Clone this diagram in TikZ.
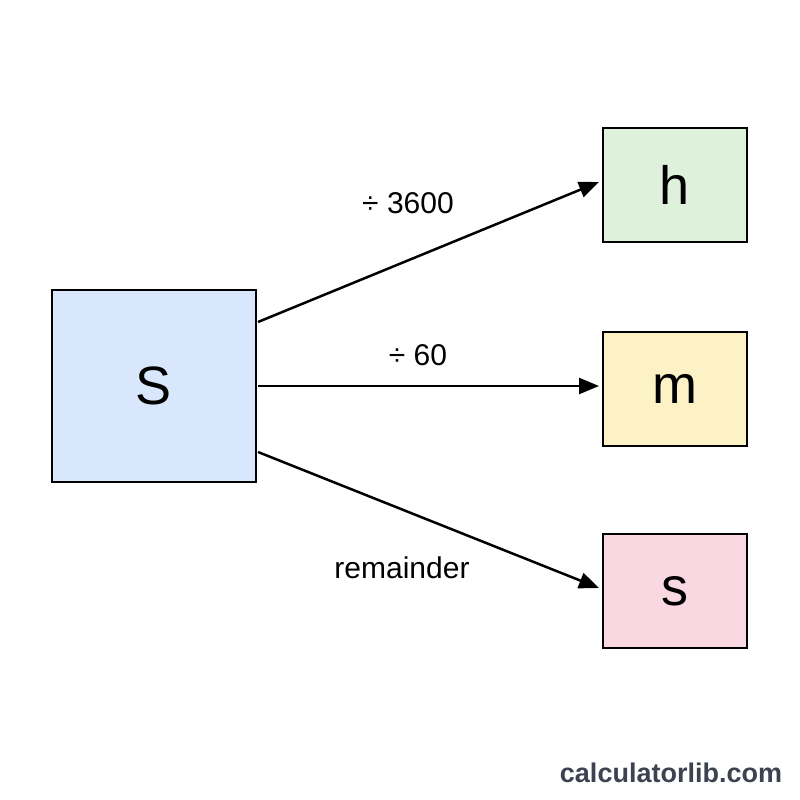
\documentclass[tikz,border=0pt]{standalone}
\usepackage{fontspec}
\setmainfont{Liberation Sans}
\usetikzlibrary{arrows.meta}
\definecolor{cs}{HTML}{D8E7FB}
\definecolor{ch}{HTML}{DEF2DB}
\definecolor{cm}{HTML}{FCF2C6}
\definecolor{cx}{HTML}{FAD8E1}
\definecolor{wm}{HTML}{3C4250}
\begin{document}
\begin{tikzpicture}[x=1pt,y=-1pt,
  box/.style={draw=black,line width=2pt,inner sep=0pt,font=\fontsize{54}{60}\selectfont},
  conn/.style={line width=2.5pt,-{Triangle[length=20pt,width=16pt]}},
  lbl/.style={font=\fontsize{30}{34}\selectfont}]
\useasboundingbox (0,0) rectangle (800,800);
\fill[white] (0,0) rectangle (800,800);
\node[box,fill=cs,minimum width=204pt,minimum height=192pt] (S) at (154,386) {S};
\node[box,fill=ch,minimum width=144pt,minimum height=114pt] (h) at (675,185) {h};
\node[box,fill=cm,minimum width=144pt,minimum height=114pt] (m) at (675,389) {m};
\node[box,fill=cx,minimum width=144pt,minimum height=114pt] (s) at (675,591) {s};
\coordinate (a1) at (258,322); \coordinate (a2) at (258,386); \coordinate (a3) at (258,452);
\coordinate (e1) at (599,182); \coordinate (e2) at (599,386); \coordinate (e3) at (599,588);
\draw[conn] (a1) -- (e1);
\draw[conn] (a2) -- (e2);
\draw[conn] (a3) -- (e3);
\node[lbl] (l1) at (408,203) {÷ 3600};
\node[lbl] (l2) at (418,355) {÷ 60};
\node[lbl] (l3) at (402,568) {remainder};
\node[font=\bfseries\fontsize{27}{30}\selectfont,text=wm] (w) at (671,773) {calculatorlib.com};
\end{tikzpicture}
\end{document}
